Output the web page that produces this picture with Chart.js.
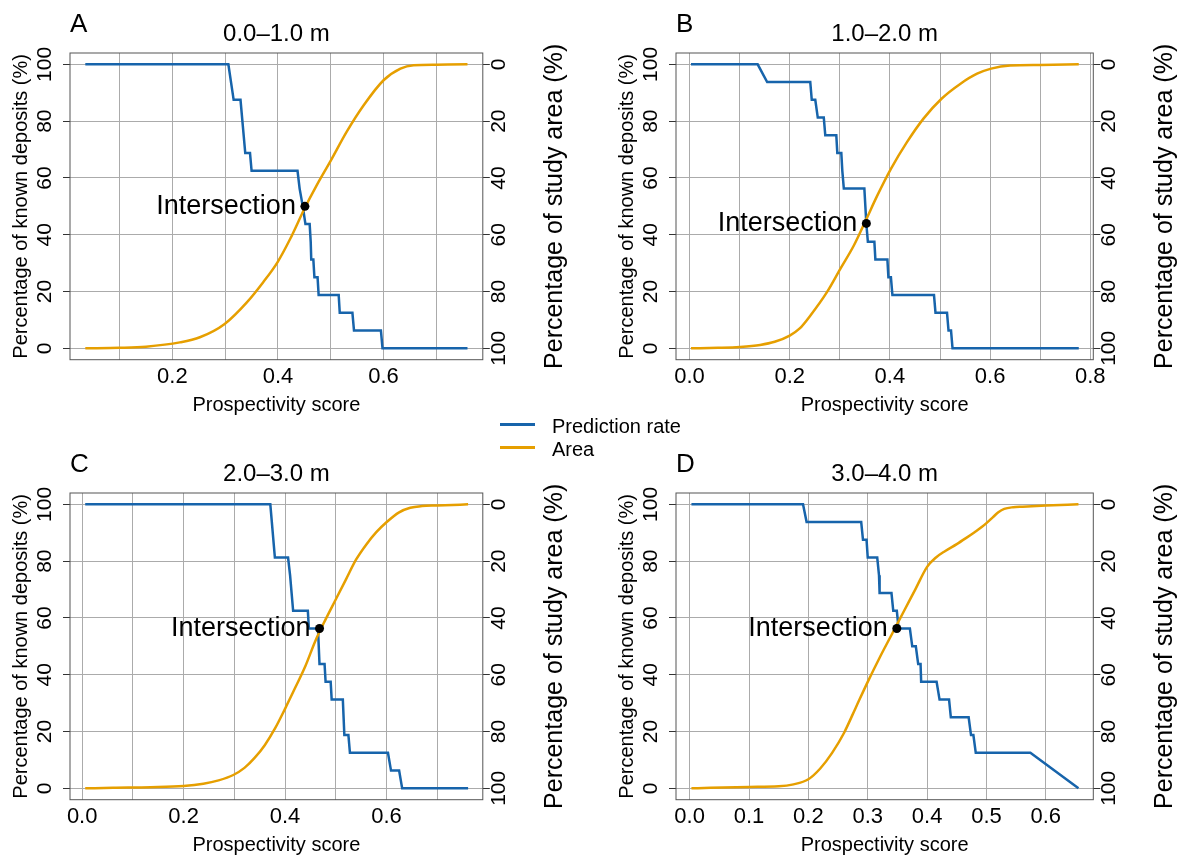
<!DOCTYPE html>
<html>
<head>
<meta charset="utf-8">
<script src="https://cdn.jsdelivr.net/npm/chart.js@4.4.1/dist/chart.umd.min.js"></script>
<style>
  body { margin: 0; background: #fff; width: 1181px; height: 857px; position: relative; overflow: hidden;
         font-family: "Liberation Sans", Arial, sans-serif; }
  canvas { position: absolute; }
  .key { position: absolute; left: 500px; width: 35px; height: 2.5px; }
  .keytext { position: absolute; left: 552px; font-size: 20px; line-height: 24px; color: #000; white-space: nowrap; }
</style>
</head>
<body>
<canvas id="panelA" width="575" height="417"></canvas>
<canvas id="panelB" width="575" height="417"></canvas>
<canvas id="panelC" width="575" height="417"></canvas>
<canvas id="panelD" width="575" height="417"></canvas>

<div class="key" style="top:423px;background:#1764ab"></div>
<div class="keytext" style="top:414px">Prediction rate</div>
<div class="key" style="top:446px;background:#e69f00"></div>
<div class="keytext" style="top:437px">Area</div>

<script>
// prediction rate: score threshold vs % of known deposits above it
const rateScoreA = [0.035, 0.306, 0.316, 0.329, 0.332, 0.338, 0.347, 0.350, 0.437, 0.441, 0.447, 0.452, 0.460, 0.462, 0.463, 0.467, 0.469, 0.475, 0.477, 0.515, 0.517, 0.541, 0.544, 0.595, 0.598, 0.759]
const rateA = [100, 100, 87.5, 87.5, 81.25, 68.75, 68.75, 62.5, 62.5, 56.25, 50, 43.75, 43.75, 37.5, 31.25, 31.25, 25, 25, 18.75, 18.75, 12.5, 12.5, 6.25, 6.25, 0, 0]
// area: score threshold vs % of study area above it
const areaScoreA = [0.035, 0.10, 0.15, 0.214, 0.252, 0.299, 0.341, 0.372, 0.399, 0.423, 0.451, 0.473, 0.50, 0.53, 0.562, 0.60, 0.632, 0.657, 0.70, 0.759]
const areaA = [100, 99.8, 99.4, 97.9, 96.1, 91.4, 83.8, 76.7, 69.7, 61.5, 50.5, 42.7, 33.9, 23.8, 14.5, 5.6, 1.5, 0.3, 0.1, 0]
const crossA = [0.451, 50]

const rateScoreB = [0.003, 0.136, 0.155, 0.241, 0.244, 0.251, 0.256, 0.268, 0.271, 0.293, 0.295, 0.303, 0.305, 0.308, 0.349, 0.351, 0.353, 0.356, 0.369, 0.371, 0.395, 0.397, 0.402, 0.405, 0.488, 0.491, 0.514, 0.517, 0.522, 0.525, 0.777]
const rateB = [100, 100, 93.75, 93.75, 87.5, 87.5, 81.25, 81.25, 75, 75, 68.75, 68.75, 62.5, 56.25, 56.25, 50, 43.75, 37.5, 37.5, 31.25, 31.25, 25, 25, 18.75, 18.75, 12.5, 12.5, 6.25, 6.25, 0, 0]
const areaScoreB = [0.003, 0.057, 0.10, 0.141, 0.17, 0.20, 0.22, 0.241, 0.274, 0.301, 0.328, 0.353, 0.374, 0.402, 0.434, 0.467, 0.503, 0.541, 0.574, 0.602, 0.64, 0.70, 0.777]
const areaB = [100, 99.8, 99.5, 98.8, 97.7, 95.5, 93, 88.5, 80.3, 72, 63.8, 54.5, 46.5, 36.8, 27.4, 19.1, 12.1, 6.8, 3.3, 1.5, 0.4, 0.2, 0]
const crossB = [0.353, 44]

const rateScoreC = [0.006, 0.371, 0.380, 0.406, 0.410, 0.413, 0.416, 0.445, 0.447, 0.465, 0.468, 0.478, 0.480, 0.490, 0.492, 0.514, 0.517, 0.525, 0.528, 0.603, 0.609, 0.625, 0.631, 0.761]
const rateC = [100, 100, 81.25, 81.25, 75, 68.75, 62.5, 62.5, 56.25, 56.25, 43.75, 43.75, 37.5, 37.5, 31.25, 31.25, 18.75, 18.75, 12.5, 12.5, 6.25, 6.25, 0, 0]
const areaScoreC = [0.006, 0.061, 0.135, 0.20, 0.239, 0.269, 0.298, 0.32, 0.34, 0.36, 0.38, 0.40, 0.42, 0.44, 0.46, 0.48, 0.50, 0.52, 0.54, 0.56, 0.58, 0.60, 0.625, 0.647, 0.67, 0.70, 0.761]
const areaC = [100, 99.8, 99.6, 99.2, 98.4, 97.2, 95.3, 92.8, 89.3, 84.8, 79, 72, 64.6, 57, 48, 40.5, 33.5, 26.5, 19.5, 14.2, 9.8, 6.3, 2.8, 1.2, 0.6, 0.4, 0]
const crossC = [0.468, 56.3]

const rateScoreD = [0.003, 0.191, 0.197, 0.289, 0.292, 0.298, 0.300, 0.316, 0.319, 0.320, 0.340, 0.343, 0.349, 0.352, 0.371, 0.375, 0.381, 0.385, 0.389, 0.390, 0.416, 0.421, 0.437, 0.440, 0.470, 0.474, 0.478, 0.482, 0.574, 0.655]
const rateD = [100, 100, 93.75, 93.75, 87.5, 87.5, 81.25, 81.25, 75, 68.75, 68.75, 62.5, 62.5, 56.25, 56.25, 50, 50, 43.75, 43.75, 37.5, 37.5, 31.25, 31.25, 25, 25, 18.75, 18.75, 12.5, 12.5, 0]
const areaScoreD = [0.003, 0.035, 0.10, 0.15, 0.175, 0.20, 0.22, 0.24, 0.26, 0.28, 0.30, 0.32, 0.34, 0.36, 0.38, 0.40, 0.415, 0.43, 0.45, 0.466, 0.48, 0.492, 0.50, 0.511, 0.52, 0.53, 0.545, 0.561, 0.60, 0.655]
const areaD = [100, 99.8, 99.5, 99.3, 98.6, 96.8, 93, 87.5, 80.5, 71.5, 62.5, 54, 46, 38, 30, 22, 18.7, 16.5, 14, 11.8, 9.8, 8, 6.6, 4.5, 2.8, 1.6, 1, 0.8, 0.4, 0]
const crossD = [0.349, 56.3]

const depthBands = ['0.0–1.0 m', '1.0–2.0 m', '2.0–3.0 m', '3.0–4.0 m']
const panelLetters = ['A', 'B', 'C', 'D']
const scoreRanges = [[0.006, 0.788], [-0.027, 0.806], [-0.024, 0.79], [-0.023, 0.68]]
const yTicks = [0, 20, 40, 60, 80, 100]

const FONT = '"Liberation Sans", Arial, sans-serif'
const BLUE = '#1764ab'
const ORANGE = '#e69f00'
const GRID = '#ababab'

Chart.defaults.font.family = FONT
Chart.defaults.color = '#000'

// plot box of each panel on the page: left, right, top, bottom
const boxes = [[69.9, 482.7, 53.3, 360], [675.7, 1093, 53.3, 360], [69.9, 482.7, 493.3, 800], [675.7, 1093, 493.3, 800]]
const W = 575, H = 417, LEFT = 70, TOP = 53

const zip = (xs, ys) => xs.map((x, i) => ({ x, y: ys[i] }))

const decorations = {
  id: 'decorations',
  beforeDatasetsDraw (chart) {
    const { ctx, chartArea: a } = chart
    ctx.save()
    ctx.strokeStyle = '#555'
    ctx.lineWidth = 1
    ctx.strokeRect(a.left, a.top, a.right - a.left, a.bottom - a.top)
    ctx.restore()
  },
  afterDraw (chart, args, opts) {
    const { ctx, chartArea: a, scales } = chart
    ctx.save()
    ctx.fillStyle = '#000'
    ctx.textBaseline = 'middle'

    ctx.font = `26px ${FONT}`
    ctx.textAlign = 'left'
    ctx.fillText(opts.letter, a.left, a.top - 28)

    ctx.font = `24px ${FONT}`
    ctx.textAlign = 'center'
    ctx.fillText(opts.title, (a.left + a.right) / 2, a.top - 18.5)

    const px = scales.x.getPixelForValue(opts.cross[0])
    const py = scales.y.getPixelForValue(opts.cross[1])
    ctx.font = `27px ${FONT}`
    ctx.textAlign = 'right'
    ctx.fillText('Intersection', px - 9, py)

    // right axis title reads bottom to top like the left one
    ctx.translate(a.right + 72, (a.top + a.bottom) / 2)
    ctx.rotate(-Math.PI / 2)
    ctx.font = `25px ${FONT}`
    ctx.textAlign = 'center'
    ctx.fillText('Percentage of study area (%)', 0, 0)
    ctx.restore()
  }
}

const series = [
  [rateScoreA, rateA, areaScoreA, areaA, crossA],
  [rateScoreB, rateB, areaScoreB, areaB, crossB],
  [rateScoreC, rateC, areaScoreC, areaC, crossC],
  [rateScoreD, rateD, areaScoreD, areaD, crossD]
]

series.forEach(([rs, rv, as, av, cross], i) => {
  const [x0, x1, y0, y1] = boxes[i]
  const canvas = document.getElementById('panel' + panelLetters[i])
  const cl = x0 - LEFT
  const ct = y0 - TOP
  canvas.style.left = cl + 'px'
  canvas.style.top = ct + 'px'
  const rightW = W - (x1 - cl)
  const bottomH = H - TOP - (y1 - y0)
  const everyOther = i < 3

  new Chart(canvas, {
    type: 'line',
    data: {
      datasets: [
        { data: [{ x: cross[0], y: cross[1] }], showLine: false, pointRadius: 4.5, pointBackgroundColor: '#000', pointBorderWidth: 0, yAxisID: 'y' },
        { data: zip(as, av), borderColor: ORANGE, borderWidth: 2.5, pointRadius: 0, cubicInterpolationMode: 'monotone', yAxisID: 'y2' },
        { data: zip(rs, rv), borderColor: BLUE, borderWidth: 2.5, pointRadius: 0, tension: 0, yAxisID: 'y' }
      ]
    },
    options: {
      responsive: false,
      animation: false,
      events: [],
      layout: { padding: { top: TOP, left: 0, right: 0, bottom: 0 } },
      plugins: {
        legend: { display: false },
        tooltip: { enabled: false },
        decorations: { letter: panelLetters[i], title: depthBands[i], cross }
      },
      scales: {
        x: {
          type: 'linear',
          min: scoreRanges[i][0],
          max: scoreRanges[i][1],
          border: { display: false },
          grid: { color: GRID, lineWidth: 1, drawTicks: false },
          ticks: {
            stepSize: 0.1,
            includeBounds: false,
            autoSkip: false,
            maxRotation: 0,
            padding: 4,
            font: { size: 22 },
            callback: v => {
              const t = Math.round(v * 10)
              return everyOther && t % 2 !== 0 ? '' : (t / 10).toFixed(1)
            }
          },
          title: { display: true, text: 'Prospectivity score', font: { size: 20 }, padding: { top: 0, bottom: 0 } },
          afterFit: s => { s.height = bottomH }
        },
        y: {
          position: 'left',
          min: -4,
          max: 104,
          border: { display: false },
          grid: { color: GRID, lineWidth: 1, tickColor: '#333', tickLength: 7 },
          afterBuildTicks: s => { s.ticks = yTicks.map(value => ({ value })) },
          ticks: { autoSkip: false, minRotation: 90, maxRotation: 90, crossAlign: 'center', padding: 0, font: { size: 21 } },
          title: { display: true, text: 'Percentage of known deposits (%)', font: { size: 20 }, padding: { top: 9, bottom: 0 } },
          afterFit: s => { s.width = LEFT }
        },
        y2: {
          position: 'right',
          reverse: true,
          min: -4,
          max: 104,
          border: { display: false },
          grid: { drawOnChartArea: false, tickColor: '#333', tickLength: 7 },
          afterBuildTicks: s => { s.ticks = yTicks.map(value => ({ value })) },
          ticks: { autoSkip: false, minRotation: 90, maxRotation: 90, crossAlign: 'center', padding: -8.5, font: { size: 21 } },
          afterFit: s => { s.width = rightW }
        }
      }
    },
    plugins: [decorations]
  })
})
</script>
</body>
</html>
